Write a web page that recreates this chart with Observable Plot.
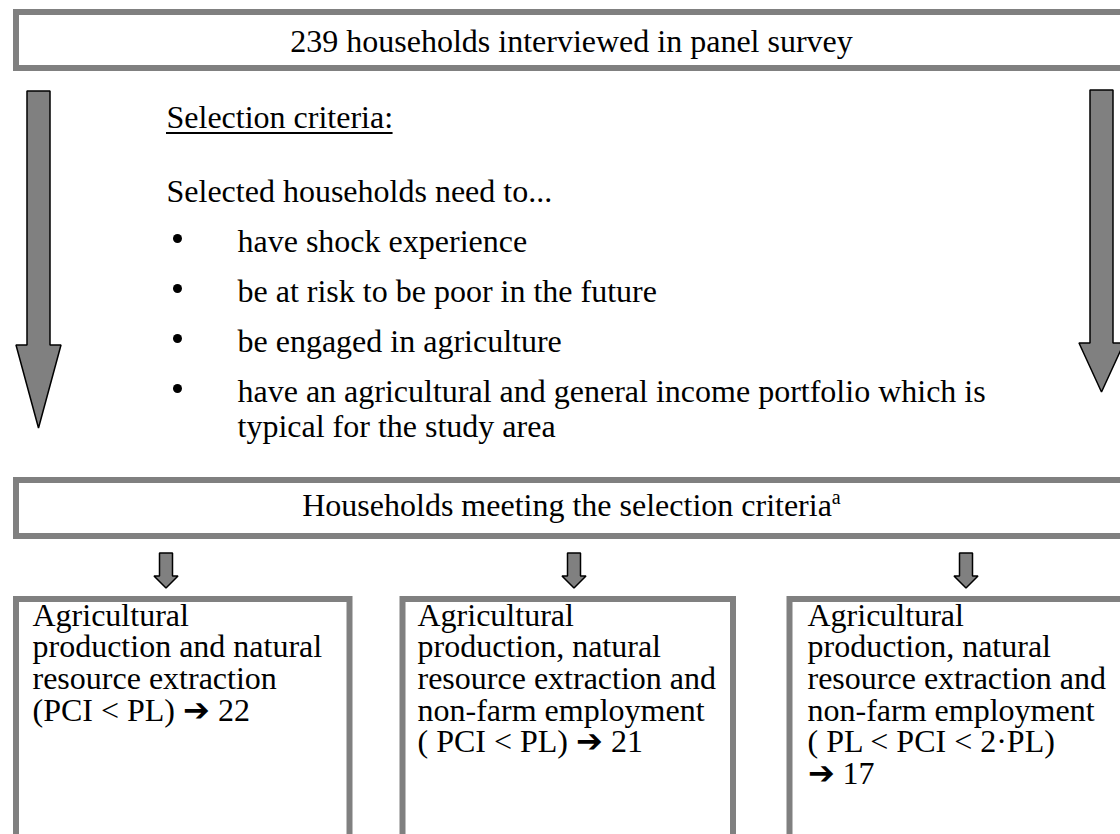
<!DOCTYPE html>
<html><head><meta charset="utf-8">
<script src="https://cdn.jsdelivr.net/npm/d3@7"></script>
<script src="https://cdn.jsdelivr.net/npm/@observablehq/plot@0.6"></script>
<style>
html,body{margin:0;padding:0;background:#fff;overflow:hidden;}
#chart svg{display:block;overflow:hidden;background:#fff;}
</style></head><body><div id="chart"></div>
<script>
// ---------- data ----------
const title = "239 households interviewed in panel survey";
const criteriaHeading = "Selection criteria:";
const criteriaIntro = "Selected households need to...";
const criteria = [
  ["have shock experience"],
  ["be at risk to be poor in the future"],
  ["be engaged in agriculture"],
  ["have an agricultural and general income portfolio which is", "typical for the study area"]
];
const selectedLabel = "Households meeting the selection criteria";
const footnoteMark = "a";
const groupLines = [
  ["Agricultural", "production and natural", "resource extraction"],
  ["Agricultural", "production, natural", "resource extraction and", "non-farm employment"],
  ["Agricultural", "production, natural", "resource extraction and", "non-farm employment"]
];
const groupConditions = ["(PCI < PL)", "( PCI < PL)", "( PL < PCI < 2\u00B7PL)"];
const groupCounts = [22, 21, 17];
const arrowGlyph = "\u2794";

// ---------- layout ----------
const W = 1120, H = 834;
const GRAY = "#808080";
const FONT = "'Liberation Serif', 'Times New Roman', Times, serif";
const FS = 32;

const boxes = [
  {x1: 16, x2: 1140, y1: 12, y2: 68},
  {x1: 16, x2: 1140, y1: 480, y2: 536},
  {x1: 16, x2: 349.5, y1: 599, y2: 870},
  {x1: 402.5, x2: 733, y1: 599, y2: 870},
  {x1: 789.5, x2: 1140, y1: 599, y2: 870}
];

function arrow(id, cx, top, neck, tip, shaft, head) {
  return [
    {id, y: top, a: cx - shaft, b: cx + shaft},
    {id, y: neck, a: cx - shaft, b: cx + shaft},
    {id, y: neck, a: cx - head, b: cx + head},
    {id, y: tip, a: cx, b: cx}
  ];
}
const smallCx = [166, 574, 966];
const arrows = [
  ...arrow("L", 38.5, 91, 345, 428, 11.5, 22.5),
  ...arrow("R", 1101.5, 90, 343, 392, 11.5, 22.5),
  ...smallCx.flatMap((cx, i) => arrow("s" + i, cx, 553, 576, 588, 6.5, 12))
];

const textStart = [];
const textMiddle = [];
textMiddle.push({x: 571, y: 51, text: title});
textStart.push({x: 166, y: 127, text: criteriaHeading});
textStart.push({x: 166, y: 201, text: criteriaIntro});
const dots = [];
criteria.forEach((lines, i) => {
  const base = 251 + i * 50;
  dots.push({x: 177, y: base - 13});
  lines.forEach((t, j) => textStart.push({x: 237, y: base + j * 35, text: t}));
});
textMiddle.push({x: 571, y: 515, text: selectedLabel});

const groupX = [32, 417, 807];
const wrapCount = [false, false, true];
const LH = 31.7;
groupLines.forEach((lines, i) => {
  const all = [...lines];
  if (wrapCount[i]) { all.push(groupConditions[i]); all.push(arrowGlyph + " " + groupCounts[i]); }
  else all.push(groupConditions[i] + " " + arrowGlyph + " " + groupCounts[i]);
  all.forEach((t, j) => textStart.push({x: groupX[i], y: 625 + j * LH, text: t}));
});

// underline width measured with the same font
const ctx = document.createElement("canvas").getContext("2d");
ctx.font = `${FS}px ${FONT}`;
const ulW = ctx.measureText(criteriaHeading).width;
const underline = [{y: 132.5, x1: 166, x2: 166 + ulW}];

const svg = Plot.plot({
  width: W, height: H, margin: 0,
  x: {domain: [0, W], axis: null},
  y: {domain: [0, H], reverse: true, axis: null},
  style: {background: "#fff"},
  marks: [
    Plot.rect(boxes, {x1: "x1", x2: "x2", y1: "y1", y2: "y2", fill: "#fff", stroke: GRAY, strokeWidth: 6}),
    Plot.areaX(arrows, {y: "y", x1: "a", x2: "b", z: "id", fill: GRAY, stroke: "#000", strokeWidth: 1.5, strokeLinejoin: "miter", curve: "linear"}),
    Plot.dot(dots, {x: "x", y: "y", r: 4.5, fill: "#000", stroke: null}),
    Plot.ruleY(underline, {y: "y", x1: "x1", x2: "x2", stroke: "#000", strokeWidth: 2.2}),
    Plot.text(textStart, {x: "x", y: "y", text: "text", textAnchor: "start", lineAnchor: "bottom", fontFamily: FONT, fontSize: FS, fill: "#000"}),
    Plot.text(textMiddle, {x: "x", y: "y", text: "text", textAnchor: "middle", lineAnchor: "bottom", fontFamily: FONT, fontSize: FS, fill: "#000"})
  ]
});

d3.select(svg).selectAll("text")
  .filter(function () { return this.textContent === selectedLabel; })
  .append("tspan").attr("font-size", "20px").attr("dy", "-12").text(footnoteMark);

document.getElementById("chart").appendChild(svg);
</script></body></html>
